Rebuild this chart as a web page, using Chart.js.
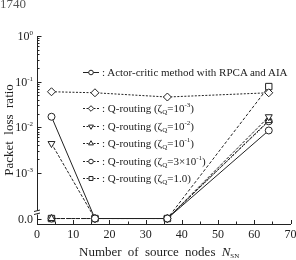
<!DOCTYPE html>
<html>
<head>
<meta charset="utf-8">
<script src="https://cdn.jsdelivr.net/npm/chart.js@4.4.1/dist/chart.umd.min.js"></script>
<style>
body { margin: 0; background: #fff; }
#wrap { position: relative; width: 296px; height: 260px; font-family: "Liberation Serif", serif; color: #222; overflow: hidden; }
#wrap canvas { position: absolute; left: 0; top: 0; }
.txt { position: absolute; white-space: nowrap; }
.leg { font-size: 11px; line-height: 12px; left: 102px; }
.yt { font-size: 12px; line-height: 14px; text-align: right; width: 30px; left: 3px; }
sup { font-size: 7px; vertical-align: 5px; line-height: 0; }
sub { font-size: 7px; vertical-align: -2px; line-height: 0; }
#xt { font-size: 13px; left: 79px; top: 244px; word-spacing: 3px; }
#page { font-size: 13px; left: 0px; top: -4px; color: #555; }
</style>
</head>
<body>
<div id="wrap">
  <canvas id="myChart" width="296" height="260"></canvas>
  <div class="txt" id="page">1740</div>
  <div class="txt" id="xt">Number of source nodes <i>N</i><sub>SN</sub></div>
</div>
<script>
// values (0 = no loss, drawn on the "0.0" row)
const nodes = [4, 16, 36, 64];
const actorCritic = [0.017, 0, 0, 0.0085];
const qRouting1e3 = [0.060, 0.057, 0.046, 0.057];
const qRouting1e2 = [0.0044, 0, 0, 0.017];
const qRouting1e1 = [0, 0, 0, 0.014];
const qRouting3e1 = [0, 0, 0, 0.0135];
const qRouting1 = [0, 0, 0, 0.078];

const seriesLabels = [
  ': Actor-critic method with RPCA and AIA',
  ': Q-routing (ζ<sub>Q</sub>=10<sup>-3</sup>)',
  ': Q-routing (ζ<sub>Q</sub>=10<sup>-2</sup>)',
  ': Q-routing (ζ<sub>Q</sub>=10<sup>-1</sup>)',
  ': Q-routing (ζ<sub>Q</sub>=3×10<sup>-1</sup>)',
  ': Q-routing (ζ<sub>Q</sub>=1.0)'
];
const yTickValues = [1, 0.1, 0.01, 0.001, 0];
const yTickLabels = ['10<sup>0</sup>', '10<sup>-1</sup>', '10<sup>-2</sup>', '10<sup>-3</sup>', '0.0'];
const xTickValues = [0, 10, 20, 30, 40, 50, 60, 70];

// broken log axis: zero sits one decade under 10^-3
const ZERO_AT = 1e-4;
const ink = '#222';
const legendRows = [72, 108, 126, 143, 161, 178];

function pts(vals) {
  return nodes.map((n, i) => ({ x: n, y: vals[i] > 0 ? vals[i] : ZERO_AT }));
}

function ds(vals, style, dash, radius, rot) {
  return {
    data: pts(vals),
    borderColor: ink,
    borderWidth: 1,
    borderDash: dash,
    pointStyle: style,
    pointRadius: radius,
    pointRotation: rot || 0,
    pointBorderColor: ink,
    pointBackgroundColor: '#fff',
    pointBorderWidth: 1,
    tension: 0
  };
}

function marker(ctx, style, x, y, r, rot) {
  ctx.beginPath();
  if (style === 'circle') {
    ctx.arc(x, y, r, 0, Math.PI * 2);
  } else if (style === 'rect') {
    const s = r * Math.SQRT1_2;
    ctx.rect(x - s, y - s, 2 * s, 2 * s);
  } else if (style === 'rectRot') {
    ctx.moveTo(x, y - r); ctx.lineTo(x + r, y); ctx.lineTo(x, y + r); ctx.lineTo(x - r, y);
    ctx.closePath();
  } else if (style === 'triangle') {
    let a = (rot || 0) * Math.PI / 180;
    for (let k = 0; k < 3; k++) {
      const px = x + Math.sin(a) * r, py = y - Math.cos(a) * r;
      if (k === 0) ctx.moveTo(px, py); else ctx.lineTo(px, py);
      a += 2 * Math.PI / 3;
    }
    ctx.closePath();
  }
  ctx.fillStyle = '#fff';
  ctx.fill();
  ctx.stroke();
}

const decor = {
  id: 'decor',
  afterDraw(chart) {
    const ctx = chart.ctx;
    const xs = chart.scales.x, ys = chart.scales.y;
    const ax = chart.chartArea.left, ay = chart.chartArea.bottom;
    ctx.save();
    ctx.strokeStyle = ink;
    ctx.lineWidth = 1;
    ctx.setLineDash([]);
    // y ticks, pointing inward
    for (let n = -3; n <= -1; n++) {
      for (let k = 2; k <= 9; k++) {
        const py = Math.round(ys.getPixelForValue(k * Math.pow(10, n))) + 0.5;
        ctx.beginPath(); ctx.moveTo(ax, py); ctx.lineTo(ax + 2.5, py); ctx.stroke();
      }
    }
    yTickValues.forEach(v => {
      const py = Math.round(ys.getPixelForValue(v > 0 ? v : ZERO_AT)) + 0.5;
      ctx.beginPath(); ctx.moveTo(ax, py); ctx.lineTo(ax + 4.5, py); ctx.stroke();
    });
    // x ticks
    for (let v = 0; v <= 70; v += 5) {
      const px = Math.round(xs.getPixelForValue(v)) + 0.5;
      const len = v % 10 === 0 ? 4 : 2.5;
      ctx.beginPath(); ctx.moveTo(px, ay); ctx.lineTo(px, ay - len); ctx.stroke();
    }
    // axis break mark
    const by = ys.getPixelForValue(ZERO_AT) - 6;
    ctx.fillStyle = '#fff';
    ctx.fillRect(ax - 3, by - 2, 7, 4);
    ctx.beginPath();
    ctx.moveTo(ax - 3, by - 1); ctx.lineTo(ax + 3, by - 2.5);
    ctx.moveTo(ax - 3, by + 2); ctx.lineTo(ax + 3, by + 0.5);
    ctx.stroke();
    // legend samples
    chart.data.datasets.forEach((d, i) => {
      const y = legendRows[i] + 0.5;
      ctx.setLineDash(i === 0 ? [] : [2, 1.5]);
      ctx.beginPath(); ctx.moveTo(83, y); ctx.lineTo(99, y); ctx.stroke();
      ctx.setLineDash([]);
      marker(ctx, d.pointStyle, 91, y, d.pointStyle === 'circle' ? 2.3 : 2.8, d.pointRotation);
    });
    ctx.restore();

    if (!chart._labelsPlaced) {
      chart._labelsPlaced = true;
      const wrap = document.getElementById('wrap');
      yTickValues.forEach((v, i) => {
        const el = document.createElement('div');
        el.className = 'txt yt';
        el.innerHTML = yTickLabels[i];
        el.style.top = (ys.getPixelForValue(v > 0 ? v : ZERO_AT) - 7) + 'px';
        wrap.appendChild(el);
      });
      seriesLabels.forEach((t, i) => {
        const el = document.createElement('div');
        el.className = 'txt leg';
        el.innerHTML = t;
        el.style.top = (legendRows[i] - 6) + 'px';
        wrap.appendChild(el);
      });
    }
  }
};

var ctx = document.getElementById('myChart');
var chart = new Chart(ctx, {
  type: 'line',
  data: {
    datasets: [
      ds(actorCritic, 'circle', [], 3.5),
      ds(qRouting1e3, 'rectRot', [2, 1.5], 4),
      ds(qRouting1e2, 'triangle', [3, 1.5], 4, 180),
      ds(qRouting1e1, 'triangle', [3.5, 1.5], 4),
      ds(qRouting3e1, 'circle', [1.5, 1.5], 3.5),
      ds(qRouting1, 'rect', [3, 2], 4.5)
    ]
  },
  options: {
    responsive: false,
    animation: false,
    layout: { padding: { top: 36, right: 5, left: 0, bottom: 0 } },
    plugins: { legend: { display: false }, tooltip: { enabled: false } },
    scales: {
      x: {
        type: 'linear',
        min: 0,
        max: 70,
        afterBuildTicks: s => { s.ticks = xTickValues.map(v => ({ value: v })); },
        afterFit: s => { s.height = 36; },
        ticks: { color: ink, padding: -4, font: { family: 'Liberation Serif', size: 12 } },
        grid: { display: false },
        border: { color: ink, width: 1 }
      },
      y: {
        type: 'logarithmic',
        min: Math.pow(10, -4.12),
        max: 1,
        afterFit: s => { s.width = 37; },
        ticks: { display: false },
        grid: { display: false },
        border: { color: ink, width: 1 },
        title: {
          display: true,
          text: 'Packet  loss  ratio',
          color: ink,
          padding: { top: 2, bottom: 0 },
          font: { family: 'Liberation Serif', size: 13 }
        }
      }
    }
  },
  plugins: [decor]
});
</script>
</body>
</html>
